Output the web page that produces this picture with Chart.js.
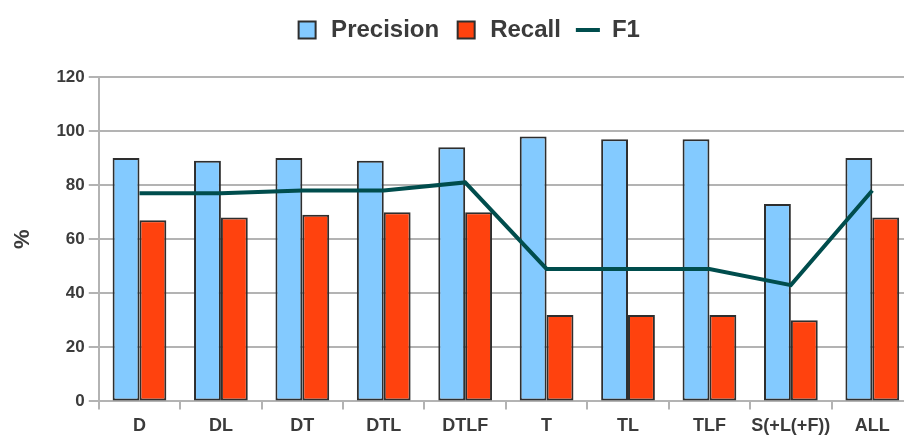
<!DOCTYPE html>
<html>
<head>
<meta charset="UTF-8">
<title>Precision / Recall / F1</title>
<script src="https://cdn.jsdelivr.net/npm/chart.js"></script>
<style>
  html, body { margin: 0; padding: 0; background: #fff; overflow: hidden; }
  .grafico { position: relative; width: 913px; height: 437px; }
</style>
</head>
<body>
<div class="grafico">
  <canvas id="myChart"></canvas>
</div>
<script>
// categorias (conjuntos de atributos)
const categorias = ['D', 'DL', 'DT', 'DTL', 'DTLF', 'T', 'TL', 'TLF', 'S(+L(+F))', 'ALL'];
const precision = [90, 89, 90, 89, 94, 98, 97, 97, 73, 90];
const recall = [67, 68, 69, 70, 70, 32, 32, 32, 30, 68];
const f1 = [77, 77, 78, 78, 81, 49, 49, 49, 43, 78];
const ticksY = [0, 20, 40, 60, 80, 100, 120];

const corTexto = '#3b3b3b';
const corGrade = '#b3b3b3';
Chart.defaults.font.family = '"Liberation Sans", Arial, sans-serif';
Chart.defaults.font.weight = 'bold';
Chart.defaults.color = corTexto;

// mais espaco abaixo da legenda e legenda um pouco para a direita
const ajusteLegenda = {
    id: 'ajusteLegenda',
    beforeInit(chart) {
        const legenda = chart.legend;
        const fitOrig = legenda.fit;
        legenda.fit = function () {
            fitOrig.call(this);
            this.height += 26;
        };
        const drawOrig = legenda.draw;
        legenda.draw = function () {
            const ctx = this.ctx;
            ctx.save();
            ctx.translate(6, 1);
            drawOrig.call(this);
            ctx.restore();
        };
    }
};

const dados = {
    labels: categorias,
    datasets: [
        {
            type: 'line',
            label: 'F1',
            data: f1,
            borderColor: '#004d4d',
            backgroundColor: '#004d4d',
            borderWidth: 4,
            pointRadius: 0,
            pointStyle: 'line',
            tension: 0,
            order: 0
        },
        {
            label: 'Precision',
            data: precision,
            backgroundColor: '#83caff',
            borderColor: '#2e2e2e',
            borderWidth: 2,
            borderSkipped: false,
            pointStyle: 'rect',
            order: 1
        },
        {
            label: 'Recall',
            data: recall,
            backgroundColor: '#ff420e',
            borderColor: '#2e2e2e',
            borderWidth: 2,
            borderSkipped: false,
            pointStyle: 'rect',
            order: 2
        }
    ]
};

const config = {
    type: 'bar',
    data: dados,
    plugins: [ajusteLegenda],
    options: {
        responsive: true,
        maintainAspectRatio: false,
        animation: false,
        datasets: {
            bar: { categoryPercentage: 0.66, barPercentage: 1.0 }
        },
        layout: { padding: { left: 10, right: 0, top: 2, bottom: -6 } },
        plugins: {
            legend: {
                position: 'top',
                labels: {
                    usePointStyle: true,
                    font: { size: 24, weight: 'bold' },
                    color: corTexto,
                    padding: 15,
                    boxHeight: 17,
                    sort: (a, b) => {
                        const ordem = ['Precision', 'Recall', 'F1'];
                        return ordem.indexOf(a.text) - ordem.indexOf(b.text);
                    }
                }
            },
            tooltip: { enabled: false }
        },
        scales: {
            x: {
                offset: true,
                grid: {
                    display: true,
                    drawOnChartArea: false,
                    offset: true,
                    color: corGrade,
                    lineWidth: 2,
                    tickLength: 8
                },
                border: { color: corGrade, width: 2 },
                ticks: {
                    font: { size: 18, weight: 'bold' },
                    color: corTexto,
                    maxRotation: 0,
                    autoSkip: false,
                    padding: 6
                }
            },
            y: {
                min: 0,
                max: 120,
                afterBuildTicks: axis => { axis.ticks = ticksY.map(v => ({ value: v })); },
                grid: {
                    color: corGrade,
                    lineWidth: 2,
                    tickLength: 10
                },
                border: { color: corGrade, width: 2 },
                ticks: {
                    font: { size: 17, weight: 'bold' },
                    color: corTexto,
                    padding: 4
                },
                title: {
                    display: true,
                    text: '%',
                    font: { size: 22, weight: 'bold' },
                    color: corTexto,
                    padding: { top: 0, bottom: 16 }
                }
            }
        }
    }
};

let myChart = new Chart(document.getElementById('myChart'), config);
</script>
</body>
</html>
